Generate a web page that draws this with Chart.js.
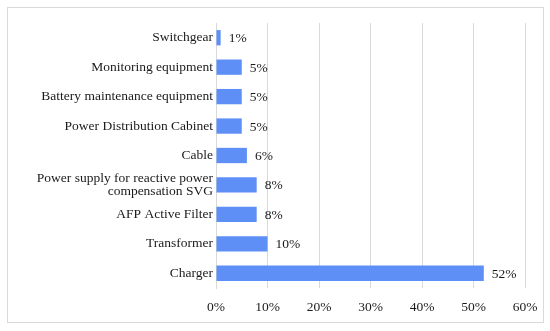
<!DOCTYPE html>
<html>
<head>
<meta charset="utf-8">
<script src="https://cdn.jsdelivr.net/npm/chart.js@4/dist/chart.umd.min.js"></script>
<style>
html,body{margin:0;padding:0;background:#fff;}
#wrap{position:relative;width:550px;height:331px;}
#frame{position:absolute;left:7px;top:7px;width:535px;height:314px;border:1px solid #d9d9d9;box-sizing:content-box;}
canvas{position:absolute;left:0;top:0;}
</style>
</head>
<body>
<div id="wrap">
<div id="frame"></div>
<canvas id="c" width="550" height="331"></canvas>
</div>
<script>
const categories = [
  "Switchgear",
  "Monitoring equipment",
  "Battery maintenance equipment",
  "Power Distribution Cabinet",
  "Cable",
  ["Power supply for reactive power", "compensation SVG"],
  "AFP Active Filter",
  "Transformer",
  "Charger"
];
const shares = [0.9, 5, 5, 5, 6, 7.9, 7.9, 10, 52];
const shareLabels = ["1%", "5%", "5%", "5%", "6%", "8%", "8%", "10%", "52%"];
const xTicks = [0, 10, 20, 30, 40, 50, 60];

const FONT = "'Liberation Serif', 'DejaVu Serif', serif";
const TEXT = '#1a1a1a';

const valueLabels = {
  id: 'valueLabels',
  afterDatasetsDraw(chart) {
    const ctx = chart.ctx;
    const meta = chart.getDatasetMeta(0);
    ctx.save();
    ctx.font = "13.5px " + FONT;
    ctx.fillStyle = TEXT;
    ctx.textAlign = 'left';
    ctx.textBaseline = 'middle';
    meta.data.forEach((bar, i) => {
      ctx.fillText(shareLabels[i], bar.x + 8, bar.y + 1);
    });
    ctx.restore();
  }
};

new Chart(document.getElementById('c'), {
  type: 'bar',
  data: {
    labels: categories,
    datasets: [{
      data: shares,
      backgroundColor: '#5e8ff6',
      borderWidth: 0,
      categoryPercentage: 0.52,
      barPercentage: 1.0
    }]
  },
  options: {
    indexAxis: 'y',
    responsive: false,
    animation: false,
    layout: { padding: { left: 0, right: 25, top: 23, bottom: 0 } },
    plugins: { legend: { display: false }, tooltip: { enabled: false } },
    scales: {
      x: {
        min: 0, max: 60,
        afterBuildTicks(scale) { scale.ticks = xTicks.map(v => ({ value: v })); },
        afterFit(scale) { scale.height = 43; },
        grid: { color: '#d9d9d9', lineWidth: 1, drawTicks: false },
        border: { display: false },
        ticks: {
          padding: 11,
          color: TEXT,
          font: { family: FONT, size: 13.5 },
          callback: v => v + '%'
        }
      },
      y: {
        afterFit(scale) { scale.width = 216; },
        grid: { display: false, drawTicks: false },
        border: { display: true, color: '#d9d9d9' },
        ticks: {
          autoSkip: false,
          padding: 3,
          color: TEXT,
          font: { family: FONT, size: 13.5, lineHeight: 1.0 }
        }
      }
    }
  },
  plugins: [valueLabels]
});
</script>
</body>
</html>
